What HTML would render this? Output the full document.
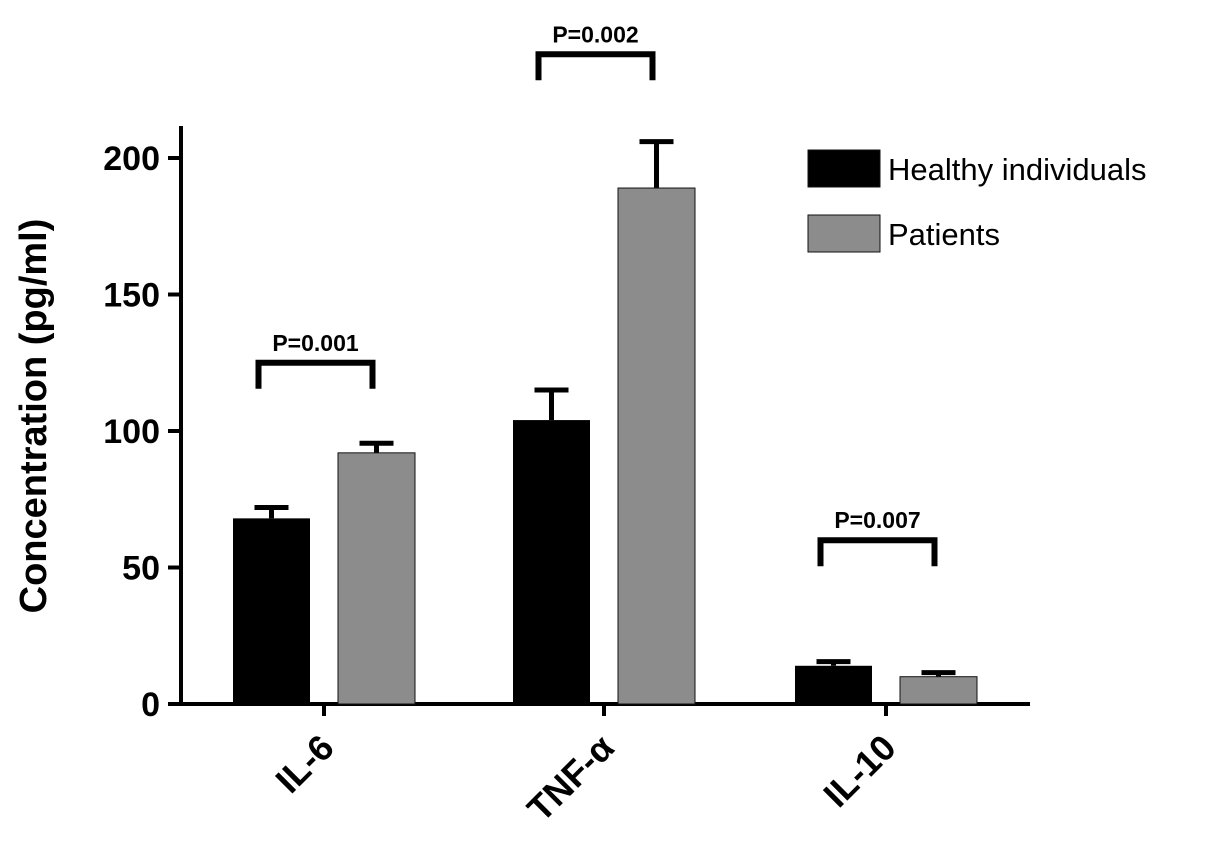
<!DOCTYPE html>
<html><head><meta charset="utf-8"><style>
html,body{margin:0;padding:0;background:#fff;}
svg{display:block;font-family:"Liberation Sans",Arial,sans-serif;}
</style></head><body>
<svg id="chart" width="1205" height="847"></svg>
<script>
const categories = ["IL-6","TNF-\u03b1","IL-10"];
const healthyValues = [68,104,14];
const healthyErrors = [4,11,1.5];
const patientValues = [92,189,10];
const patientErrors = [3.5,17,1.5];
const yTicks = [0,50,100,150,200];
const pLabels = ["P=0.001","P=0.002","P=0.007"];
const pLevels = [125,238,60];

const NS="http://www.w3.org/2000/svg";
const svg=document.getElementById('chart');
function mk(t,a,p){const e=document.createElementNS(NS,t);for(const k in a)e.setAttribute(k,a[k]);(p||svg).appendChild(e);return e;}
const y0=704, ppu=(704-158)/200;
function yS(v){return y0-v*ppu;}
const groupX=[233,513,795], barW=77, gap=105;
function xS(i,s){return groupX[i]+s*gap;}

let e=mk('line',{x1:181,y1:126,x2:181,y2:706,stroke:'#000','stroke-width':4});

e=mk('line',{x1:179,y1:704,x2:1030,y2:704,stroke:'#000','stroke-width':4});

yTicks.forEach(t=>{
  const l=mk('line',{x1:168,y1:yS(t),x2:181,y2:yS(t),stroke:'#000','stroke-width':4});
  
  const tx=mk('text',{x:160,y:yS(t)+12,'text-anchor':'end','font-size':34,'font-weight':'bold'});
  tx.textContent=t;
  
});
e=mk('text',{x:0,y:0,'text-anchor':'middle','font-size':38,'font-weight':'bold',transform:'translate(46,416) rotate(-90)'});
e.textContent='Concentration (pg/ml)';


function bar(i,s,v,er,fill){
  const x=xS(i,s);
  const eb=mk('g',{});
  
  mk('line',{x1:x+barW/2,y1:yS(v),x2:x+barW/2,y2:yS(v+er),stroke:'#000','stroke-width':5},eb);
  mk('line',{x1:x+barW/2-17,y1:yS(v+er),x2:x+barW/2+17,y2:yS(v+er),stroke:'#000','stroke-width':5},eb);
  const r=mk('rect',{x:x,y:yS(v),width:barW,height:y0-yS(v),fill:fill,stroke:'#111','stroke-width':s?1:0});
  
}
categories.forEach((c,i)=>{
  bar(i,0,healthyValues[i],healthyErrors[i],'#000');
  bar(i,1,patientValues[i],patientErrors[i],'#8c8c8c');
  const cx=xS(i,0)+barW+14;
  const tk=mk('line',{x1:cx,y1:704,x2:cx,y2:716,stroke:'#000','stroke-width':4});
  
  const lb=mk('text',{x:0,y:0,'text-anchor':'end','font-size':36,'font-weight':'bold',transform:`translate(${cx+12},${750}) rotate(-45)`});
  lb.textContent=c;
  
  const lv=yS(pLevels[i]);
  const x1=xS(i,0)+barW/2-13, x2=xS(i,1)+barW/2-4;
  const br=mk('path',{d:`M${x1},${lv+26} V${lv} H${x2} V${lv+26}`,fill:'none',stroke:'#000','stroke-width':6});
  
  const pt=mk('text',{x:(x1+x2)/2,y:lv-12,'text-anchor':'middle','font-size':23,'font-weight':'bold'});
  pt.textContent=pLabels[i];
  
});
const lg=mk('g',{});

[['Healthy individuals','#000',150],['Patients','#8c8c8c',215]].forEach(d=>{
  const g=mk('g',{},lg);
  
  mk('rect',{x:808,y:d[2],width:72,height:37,fill:d[1],stroke:'#111','stroke-width':1},g);
  const t=mk('text',{x:888,y:d[2]+30,'font-size':31},g);t.textContent=d[0];
});
</script>
</body></html>
